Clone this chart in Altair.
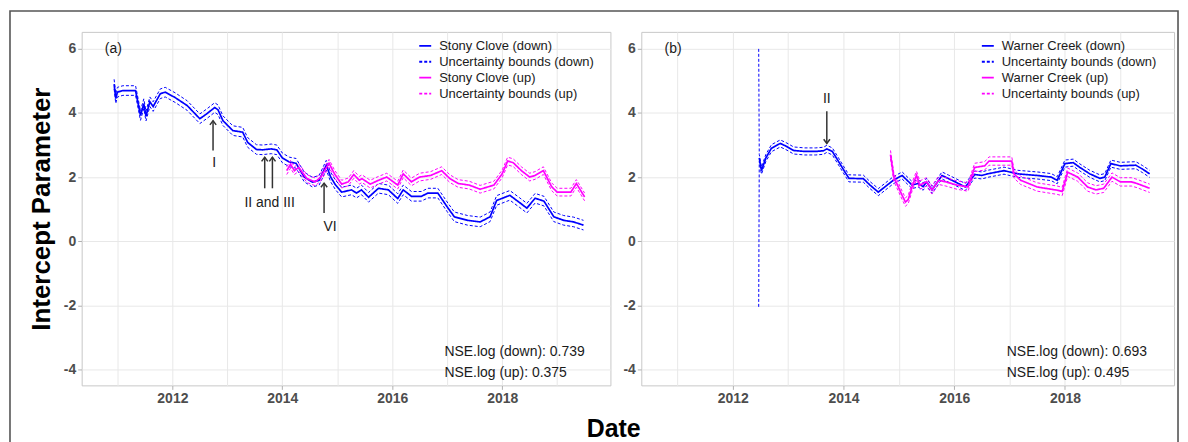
import altair as alt
import pandas as pd

# ---------------- data ----------------
# Panel (a) Stony Clove
sc_down_year = [2010.94, 2010.97, 2011.0, 2011.1, 2011.33, 2011.42, 2011.48, 2011.52, 2011.59, 2011.65,
                2011.78, 2011.87, 2012.05, 2012.27, 2012.5, 2012.63, 2012.77, 2012.83, 2012.92, 2013.1,
                2013.28, 2013.37, 2013.53, 2013.64, 2013.8, 2013.9, 2014.0, 2014.13, 2014.25, 2014.4,
                2014.55, 2014.67, 2014.8, 2014.88, 2014.97, 2015.08, 2015.26, 2015.35, 2015.44, 2015.57,
                2015.75, 2015.93, 2016.1, 2016.2, 2016.35, 2016.53, 2016.65, 2016.83, 2017.0, 2017.13,
                2017.37, 2017.6, 2017.78, 2017.9, 2018.14, 2018.32, 2018.45, 2018.6, 2018.76, 2018.94,
                2019.12, 2019.3, 2019.48]
sc_down_val = [4.9, 4.45, 4.65, 4.7, 4.7, 3.92, 4.29, 3.9, 4.35, 4.2,
               4.6, 4.65, 4.48, 4.23, 3.82, 3.98, 4.17, 4.1, 3.76, 3.45,
               3.4, 3.08, 2.86, 2.85, 2.88, 2.85, 2.6, 2.47, 2.43, 2.0,
               1.84, 1.9, 2.37, 2.0, 1.75, 1.53, 1.6, 1.5, 1.6, 1.37,
               1.65, 1.6, 1.33, 1.6, 1.4, 1.4, 1.5, 1.5, 1.07, 0.76,
               0.65, 0.6, 0.76, 1.27, 1.43, 1.2, 1.03, 1.34, 1.25, 0.76,
               0.65, 0.6, 0.5]
sc_up_year = [2014.08, 2014.15, 2014.22, 2014.3, 2014.45, 2014.6, 2014.7, 2014.85, 2014.95, 2015.08,
              2015.2, 2015.3, 2015.4, 2015.45, 2015.6, 2015.75, 2015.9, 2016.1, 2016.2, 2016.35,
              2016.5, 2016.7, 2016.9, 2017.05, 2017.2, 2017.4, 2017.6, 2017.85, 2018.0, 2018.1,
              2018.2, 2018.35, 2018.5, 2018.6, 2018.75, 2018.9, 2019.0, 2019.25, 2019.35, 2019.5]
sc_up_val = [2.2, 2.4, 2.2, 2.3, 1.95, 1.85, 2.0, 2.43, 2.1, 1.78,
             1.85, 2.08, 1.9, 1.95, 1.78, 1.9, 2.0, 1.75, 2.1, 1.85,
             2.0, 2.05, 2.2, 1.95, 1.8, 1.75, 1.62, 1.75, 2.1, 2.5,
             2.45, 2.2, 2.0, 2.05, 2.2, 1.7, 1.53, 1.53, 1.8, 1.38]

# Panel (b) Warner Creek
wc_down_year = [2012.48, 2012.52, 2012.6, 2012.7, 2012.86, 2012.98, 2013.1, 2013.3, 2013.5, 2013.64,
                2013.7, 2013.8, 2013.9, 2014.03, 2014.1, 2014.36, 2014.48, 2014.63, 2014.79, 2014.9,
                2015.06, 2015.24, 2015.35, 2015.44, 2015.5, 2015.6, 2015.78, 2015.9, 2016.02, 2016.2,
                2016.25, 2016.37, 2016.5, 2016.6, 2016.9, 2017.15, 2017.5, 2017.75, 2017.86, 2018.0,
                2018.15, 2018.27, 2018.45, 2018.63, 2018.72, 2018.83, 2019.0, 2019.28, 2019.4, 2019.53]
wc_down_val = [2.6, 2.2, 2.6, 2.9, 3.05, 2.95, 2.83, 2.8, 2.8, 2.82,
               2.88, 2.8, 2.52, 2.15, 1.96, 1.95, 1.75, 1.53, 1.75, 1.9,
               2.05, 1.75, 1.8, 1.7, 1.85, 1.6, 2.05, 1.95, 1.85, 1.69,
               1.8, 2.08, 2.05, 2.1, 2.2, 2.1, 2.05, 2.0, 1.9, 2.42,
               2.45, 2.3, 2.1, 1.96, 2.0, 2.42, 2.35, 2.37, 2.25, 2.1]
wc_up_year = [2014.85, 2014.91, 2015.06, 2015.12, 2015.17, 2015.25, 2015.32, 2015.38, 2015.5, 2015.6,
              2015.72, 2015.85, 2016.05, 2016.25, 2016.37, 2016.55, 2016.63, 2017.04, 2017.08, 2017.2,
              2017.5, 2017.86, 2017.95, 2018.05, 2018.23, 2018.41, 2018.56, 2018.7, 2018.85, 2019.0,
              2019.2, 2019.3, 2019.53]
wc_up_val = [2.7, 2.0, 1.43, 1.22, 1.3, 1.75, 2.05, 1.75, 1.85, 1.6,
             1.9, 1.85, 1.75, 1.69, 2.3, 2.35, 2.5, 2.5, 2.1, 1.9,
             1.69, 1.59, 1.55, 2.15, 2.0, 1.69, 1.6, 1.65, 2.0, 1.85,
             1.85, 1.8, 1.65]

# half-widths of the uncertainty bands
sc_down_band = 0.15
sc_up_band = 0.12
wc_down_band = 0.11
wc_up_band = 0.13
# very wide first bound of Warner Creek (down): year, lower, upper
wc_down_first_bound = [2012.47, -2.05, 6.0]

# annotations
sc_arrow_year = [2012.74, 2013.68, 2013.82, 2014.76]
sc_arrow_tail = [2.83, 1.65, 1.65, 0.88]
sc_arrow_head = [3.76, 2.62, 2.62, 1.81]
sc_label_text = ["I", "II and III", "VI"]
sc_label_year = [2012.76, 2013.77, 2014.87]
sc_label_val = [2.43, 1.2, 0.45]

wc_arrow_year = [2013.7]
wc_arrow_tail = [4.05]
wc_arrow_head = [3.05]
wc_label_text = ["II"]
wc_label_year = [2013.7]
wc_label_val = [4.42]

sc_nse = ["NSE.log (down): 0.739", "NSE.log (up): 0.375"]
wc_nse = ["NSE.log (down): 0.693", "NSE.log (up): 0.495"]
nse_val = [-3.47, -4.12]
nse_year = 2016.95

# shared x-axis title "Date", placed below the panels (in left-panel data units)
date_title_year = 2020.03
date_title_val = -5.86

x_domain = [2010.35, 2019.97]
y_domain = [-4.5, 6.53]
x_ticks = list(range(2011, 2020))
y_ticks = list(range(-4, 7))

FONT = "Liberation Sans"
BLUE = "#0000ff"
MAGENTA = "#ff00ff"


def build_lines(site, dx, dv, dw, ux, uv, uw, first_bound=None):
    rows = []
    s_down = f"{site} (down)"
    s_up = f"{site} (up)"
    for x, v in zip(dx, dv):
        rows.append((x, v, s_down, "c_down"))
        rows.append((x, v - dw, "Uncertainty bounds (down)", "lo_down"))
        rows.append((x, v + dw, "Uncertainty bounds (down)", "hi_down"))
    if first_bound is not None:
        rows.append((first_bound[0], first_bound[1], "Uncertainty bounds (down)", "lo_down"))
        rows.append((first_bound[0], first_bound[2], "Uncertainty bounds (down)", "hi_down"))
    for x, v in zip(ux, uv):
        rows.append((x, v, s_up, "c_up"))
        rows.append((x, v - uw, "Uncertainty bounds (up)", "lo_up"))
        rows.append((x, v + uw, "Uncertainty bounds (up)", "hi_up"))
    df = pd.DataFrame(rows, columns=["year", "value", "series", "line"])
    df["width"] = df["line"].str.startswith("c").map({True: "c", False: "b"})
    domain = [s_down, "Uncertainty bounds (down)", s_up, "Uncertainty bounds (up)"]
    return df, domain


def panel(site, letter, dx, dv, dw, ux, uv, uw, first_bound,
          a_year, a_tail, a_head, l_text, l_year, l_val, nse_texts, show_title, up_arrow, legend_x):
    df, domain = build_lines(site, dx, dv, dw, ux, uv, uw, first_bound)
    xs = alt.Scale(domain=x_domain, nice=False, zero=False)
    ys = alt.Scale(domain=y_domain, nice=False, zero=False)
    tick_cond = {"condition": {"test": "datum.value % 2 == 0", "value": 1}, "value": 0}
    xaxis = alt.Axis(values=x_ticks,
                     labelExpr="datum.value % 2 == 0 ? '' + datum.value : ''",
                     title=None, tickOpacity=tick_cond)
    yaxis = alt.Axis(values=y_ticks,
                     labelExpr="datum.value % 2 == 0 ? '' + datum.value : ''",
                     title="Intercept Parameter" if show_title else None,
                     tickOpacity=tick_cond)
    legend = alt.Legend(title=None, orient="none", legendX=legend_x, legendY=7,
                        labelFont=FONT, labelFontSize=13, labelColor="#1a1a1a",
                        symbolType="stroke", symbolSize=144, symbolStrokeWidth=1.8,
                        rowPadding=2.0, labelOffset=7, padding=0)
    lines = alt.Chart(df).mark_line(clip=True).encode(
        x=alt.X("year:Q", scale=xs, axis=xaxis),
        y=alt.Y("value:Q", scale=ys, axis=yaxis),
        color=alt.Color("series:N", scale=alt.Scale(domain=domain, range=[BLUE, BLUE, MAGENTA, MAGENTA]),
                        legend=legend),
        strokeDash=alt.StrokeDash("series:N", scale=alt.Scale(domain=domain,
                                                               range=[[1, 0], [3, 2], [1, 0], [3, 2]]),
                                  legend=legend),
        strokeWidth=alt.StrokeWidth("width:N", scale=alt.Scale(domain=["c", "b"], range=[1.7, 1.0]),
                                    legend=None),
        detail="line:N",
    )
    arrows_df = pd.DataFrame({"year": a_year, "tail": a_tail, "head": a_head})
    shafts = alt.Chart(arrows_df).mark_rule(color="#333333", strokeWidth=1.5).encode(
        x="year:Q", y="tail:Q", y2="head:Q")
    path = "M -0.75 1 L 0 0 L 0.75 1" if up_arrow else "M -0.75 -1 L 0 0 L 0.75 -1"
    heads = alt.Chart(arrows_df).mark_point(shape=path, size=70, filled=False,
                                            color="#333333", strokeWidth=1.5, opacity=1).encode(
        x="year:Q", y="head:Q")
    labels_df = pd.DataFrame({"year": l_year, "value": l_val, "text": l_text})
    labels = alt.Chart(labels_df).mark_text(font=FONT, fontSize=14, color="#222222").encode(
        x="year:Q", y="value:Q", text="text:N")
    nse_df = pd.DataFrame({"year": [nse_year] * 2, "value": nse_val, "text": nse_texts})
    nse = alt.Chart(nse_df).mark_text(font=FONT, fontSize=14, color="#1a1a1a", align="left").encode(
        x="year:Q", y="value:Q", text="text:N")
    letter_df = pd.DataFrame({"year": [2010.77], "value": [6.0], "text": [letter]})
    let = alt.Chart(letter_df).mark_text(font=FONT, fontSize=14, color="#1a1a1a", align="left").encode(
        x="year:Q", y="value:Q", text="text:N")
    return [lines, shafts, heads, labels, nse, let]


# decorative figure frame (drawn around the whole figure, relative to the left panel)
frame = alt.Chart(pd.DataFrame({"f": [0]})).mark_rect(
    fillOpacity=0, stroke="#555555", strokeWidth=1.6, clip=False
).encode(x=alt.value(-72), x2=alt.value(1101), y=alt.value(-21), y2=alt.value(440))

date_df = pd.DataFrame({"year": [date_title_year], "value": [date_title_val], "text": ["Date"]})
date_title = alt.Chart(date_df).mark_text(font=FONT, fontSize=25, fontWeight="bold",
                                          color="black", clip=False).encode(
    x="year:Q", y="value:Q", text="text:N")

left = alt.layer(*panel("Stony Clove", "(a)", sc_down_year, sc_down_val, sc_down_band,
                        sc_up_year, sc_up_val, sc_up_band, None,
                        sc_arrow_year, sc_arrow_tail, sc_arrow_head,
                        sc_label_text, sc_label_year, sc_label_val, sc_nse, True, True, 338),
                 date_title, frame).properties(width=531, height=355)
right = alt.layer(*panel("Warner Creek", "(b)", wc_down_year, wc_down_val, wc_down_band,
                         wc_up_year, wc_up_val, wc_up_band, wc_down_first_bound,
                         wc_arrow_year, wc_arrow_tail, wc_arrow_head,
                         wc_label_text, wc_label_year, wc_label_val, wc_nse, False, False, 341)
                  ).properties(width=535, height=355)

chart = alt.hconcat(left, right, spacing=31, bounds="flush").resolve_scale(
    color="independent", strokeDash="independent", strokeWidth="independent",
    x="independent", y="independent"
).resolve_legend(color="independent", strokeDash="independent").properties(
    padding={"left": 0, "top": 0, "right": 0, "bottom": 0},
    background="white",
).configure_view(stroke="#c8c8c8", strokeWidth=1).configure_axis(
    labelFont=FONT, labelFontSize=14, labelFontWeight="bold", labelColor="#4d4d4d",
    labelPadding=2, tickSize=4, tickColor="#b0b0b0", domain=False,
    gridColor="#e8e8e8", gridWidth=1,
    titleFont=FONT, titleFontSize=26, titleFontWeight="bold", titleColor="black", titlePadding=9,
)

chart.save("out.html", embed_options={"renderer": "svg", "actions": False})
